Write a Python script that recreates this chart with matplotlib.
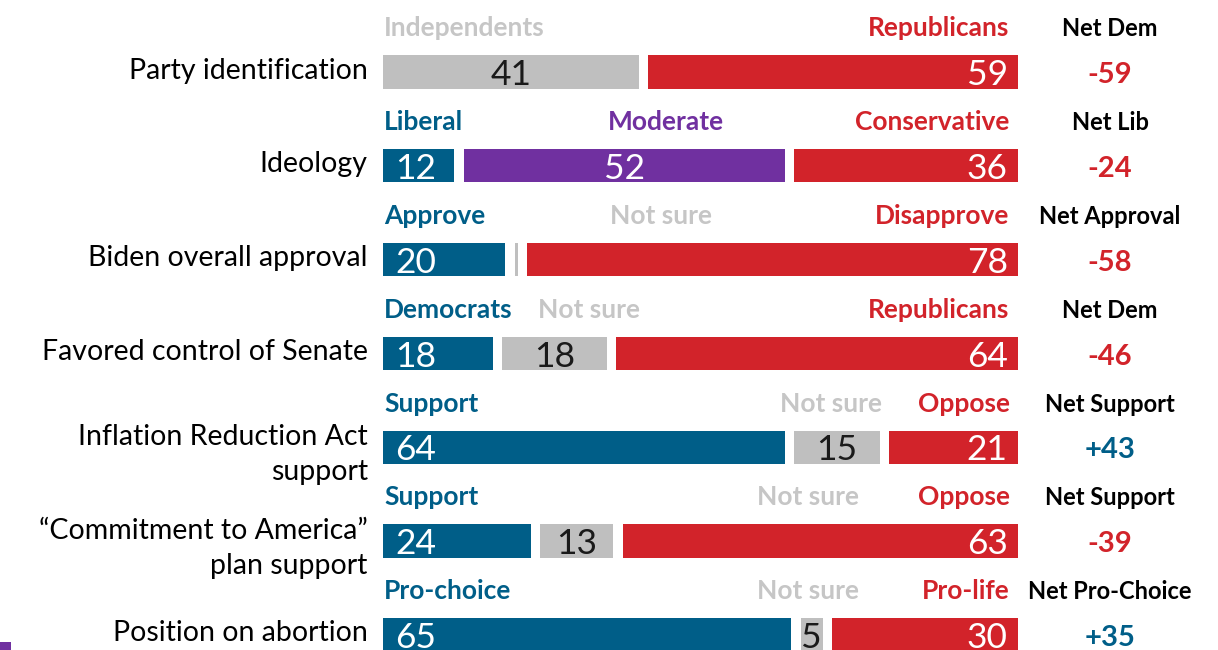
import matplotlib
matplotlib.use("Agg")
from matplotlib import pyplot as plt
from matplotlib import font_manager
from matplotlib.patches import Rectangle

questions = [
    "Party identification",
    "Ideology",
    "Biden overall approval",
    "Favored control of Senate",
    "Inflation Reduction Act\nsupport",
    "\u201cCommitment to America\u201d\nplan support",
    "Position on abortion",
]
shares = [
    [41, 59],
    [12, 52, 36],
    [20, 2, 78],
    [18, 18, 64],
    [64, 15, 21],
    [24, 13, 63],
    [65, 5, 30],
]
answers = [
    ["Independents", "Republicans"],
    ["Liberal", "Moderate", "Conservative"],
    ["Approve", "Not sure", "Disapprove"],
    ["Democrats", "Not sure", "Republicans"],
    ["Support", "Not sure", "Oppose"],
    ["Support", "Not sure", "Oppose"],
    ["Pro-choice", "Not sure", "Pro-life"],
]
net_titles = ["Net Dem", "Net Lib", "Net Approval", "Net Dem",
              "Net Support", "Net Support", "Net Pro-Choice"]
net_values = [-59, -24, -58, -46, 43, -39, 35]

BLUE = "#005E88"
RED = "#D2232A"
GRAY = "#BFBFBF"
PURPLE = "#7030A0"
TEXT_COL = {BLUE: BLUE, RED: RED, GRAY: "#C6C6C6", PURPLE: PURPLE}

seg_colors = [
    [GRAY, RED],
    [BLUE, PURPLE, RED],
    [BLUE, GRAY, RED],
    [BLUE, GRAY, RED],
    [BLUE, GRAY, RED],
    [BLUE, GRAY, RED],
    [BLUE, GRAY, RED],
]
# where the middle answer label sits (centre, in % units)
mid_label_x = [None, 44.6, 43.8, 32.4, 70.6, 67.0, 67.0]

installed = {f.name for f in font_manager.fontManager.ttflist}
SANS = "Lato" if "Lato" in installed else "DejaVu Sans"

W, H = 1218, 650
fig = plt.figure(figsize=(W / 100, H / 100), dpi=100)
ax = fig.add_axes([383 / W, 0, 635 / W, 1])
ax.set_xlim(0, 100)
ax.set_ylim(6.162, -0.768)
ax.axis("off")

GAP = 1.5
BAR_H = 0.355
LINE = 0.373  # line step for two-line questions

for i, vals in enumerate(shares):
    n = len(vals)
    cum = 0
    for j, v in enumerate(vals):
        l = cum + (GAP / 2 if j > 0 else 0)
        r = cum + v - (GAP / 2 if j < n - 1 else 0)
        col = seg_colors[i][j]
        ax.barh(i, r - l, left=l, height=BAR_H, color=col, lw=0)
        if v >= 5:
            txt_col = "#1a1a1a" if col == GRAY else "white"
            if col == BLUE:
                tx, ha = l + 1.9, "left"
            elif col == RED:
                tx, ha = r - 1.6, "right"
            else:
                tx, ha = (l + r) / 2, "center"
            ax.text(tx, i + 0.14, str(v), ha=ha, va="baseline", color=txt_col,
                    fontsize=25.5, family=SANS)
        # answer label above the bar
        if j == 0:
            lx, lha = 0.2, "left"
        elif j == n - 1:
            lx, lha = 98.7, "right"
        else:
            lx, lha = mid_label_x[i], "center"
        ax.text(lx, i - 0.38, answers[i][j], ha=lha, va="baseline",
                color=TEXT_COL[col], fontsize=19, fontweight="bold", family=SANS)
        cum += v

    # question label on the left
    lines = questions[i].split("\n")
    base = i + (0.07 if len(lines) == 1 else -0.02)
    for k, line in enumerate(lines):
        ax.text(-2.4, base + k * LINE, line, ha="right", va="baseline",
                color="black", fontsize=20.5, family=SANS)

    # net column
    ax.text(114.5, i - 0.38, net_titles[i], ha="center", va="baseline",
            color="black", fontsize=17, fontweight="bold", family=SANS)
    nv = net_values[i]
    ax.text(114.5, i + 0.12, ("+%d" % nv) if nv > 0 else "-%d" % abs(nv),
            ha="center", va="baseline", color=BLUE if nv > 0 else RED,
            fontsize=21, fontweight="bold", family=SANS)

fig.patches.append(Rectangle((0, 0), 11 / W, 8 / H, transform=fig.transFigure,
                             color=PURPLE, lw=0))

fig.savefig("out.png", dpi=100)
